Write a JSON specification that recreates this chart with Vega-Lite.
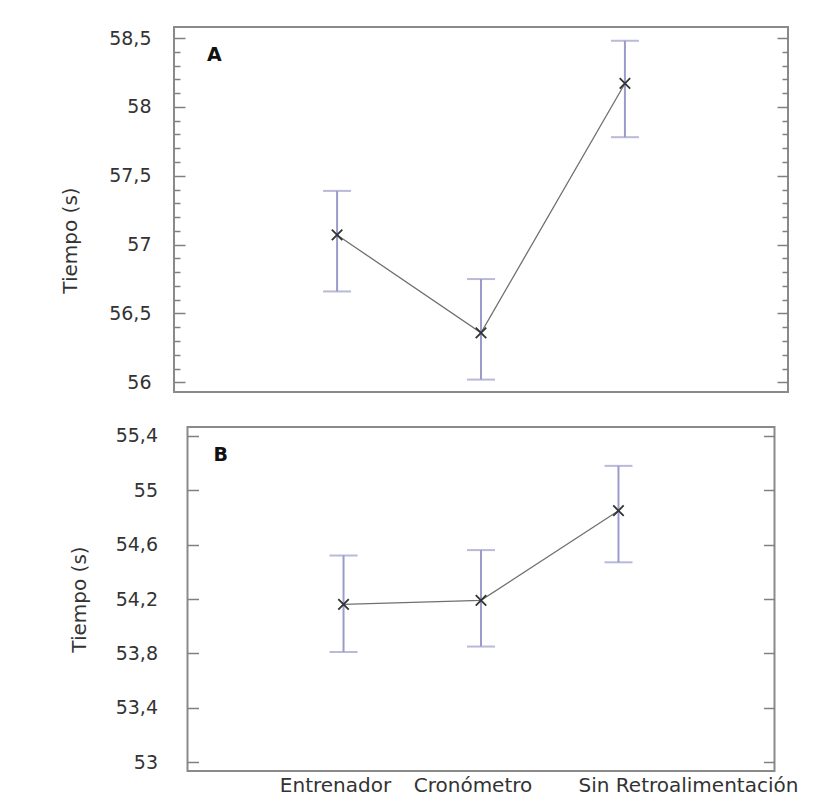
{
  "$schema": "https://vega.github.io/schema/vega-lite/v6.json",
  "background": "white",
  "padding": {"left": 59, "top": 26, "right": 0, "bottom": 0},
  "datasets": {
    "a": [
      {"grupo": "Entrenador", "media": 57.07, "inf": 56.66, "sup": 57.39},
      {"grupo": "Cronómetro", "media": 56.36, "inf": 56.02, "sup": 56.75},
      {"grupo": "Sin Retroalimentación", "media": 58.17, "inf": 57.78, "sup": 58.48}
    ],
    "b": [
      {"grupo": "Entrenador", "media": 54.16, "inf": 53.81, "sup": 54.52},
      {"grupo": "Cronómetro", "media": 54.19, "inf": 53.85, "sup": 54.56},
      {"grupo": "Sin Retroalimentación", "media": 54.85, "inf": 54.47, "sup": 55.18}
    ]
  },
  "spacing": 35,
  "bounds": "flush",
  "center": true,
  "vconcat": [
    {
      "width": 614,
      "height": 365,
      "title": {"text": "A", "anchor": "start", "frame": "group", "font": "DejaVu Sans", "fontSize": 19, "fontWeight": "bold", "color": "#111", "baseline": "alphabetic", "offset": 0, "dx": 33, "dy": 53},
      "data": {"name": "a"},
      "encoding": {
        "x": {"field": "grupo", "type": "nominal", "sort": null, "scale": {"type": "band", "paddingInner": 0, "paddingOuter": 0.633}, "axis": null}
      },
      "layer": [
        {
          "mark": {"type": "rule", "color": "#9b9bcb", "strokeWidth": 2},
          "encoding": {
            "y": {"field": "inf", "type": "quantitative", "scale": {"domain": [55.93, 58.58], "nice": false, "zero": false},
              "axis": {"orient": "left", "title": "Tiempo (s)", "domain": false, "grid": false,
                "values": [56, 56.1, 56.2, 56.3, 56.4, 56.5, 56.6, 56.7, 56.8, 56.9, 57, 57.1, 57.2, 57.3, 57.4, 57.5, 57.6, 57.7, 57.8, 57.9, 58, 58.1, 58.2, 58.3, 58.4, 58.5],
                "labelExpr": "abs(round(datum.value*2)-datum.value*2) < 0.000001 ? replace(toString(datum.value), '.', ',') : ''",
                "tickSize": {"condition": {"test": "abs(round(datum.value*2)-datum.value*2) < 0.000001", "value": -11}, "value": -6},
                "tickColor": "#808080", "tickWidth": 1.5, "labelPadding": 34,
                "labelFont": "DejaVu Sans", "labelFontSize": 19, "labelColor": "#333",
                "titleFont": "DejaVu Sans", "titleFontSize": 20, "titleFontWeight": "normal", "titleColor": "#333", "titlePadding": 28, "titleY": 213}},
            "y2": {"field": "sup"}
          }
        },
        {
          "mark": {"type": "tick", "orient": "horizontal", "color": "#9b9bcb", "size": 28, "thickness": 2},
          "encoding": {
            "y": {"field": "inf", "type": "quantitative", "scale": {"domain": [55.93, 58.58], "nice": false, "zero": false},
              "axis": {"orient": "right", "title": null, "labels": false, "domain": false, "grid": false,
                "values": [56, 56.1, 56.2, 56.3, 56.4, 56.5, 56.6, 56.7, 56.8, 56.9, 57, 57.1, 57.2, 57.3, 57.4, 57.5, 57.6, 57.7, 57.8, 57.9, 58, 58.1, 58.2, 58.3, 58.4, 58.5],
                "tickSize": {"condition": {"test": "abs(round(datum.value*2)-datum.value*2) < 0.000001", "value": -11}, "value": -6},
                "tickColor": "#808080", "tickWidth": 1.5}}
          }
        },
        {
          "mark": {"type": "tick", "orient": "horizontal", "color": "#9b9bcb", "size": 28, "thickness": 2},
          "encoding": {
            "y": {"field": "sup", "type": "quantitative", "scale": {"domain": [55.93, 58.58], "nice": false, "zero": false}, "axis": null}
          }
        },
        {
          "mark": {"type": "line", "color": "#707070", "strokeWidth": 1.3},
          "encoding": {
            "y": {"field": "media", "type": "quantitative", "scale": {"domain": [55.93, 58.58], "nice": false, "zero": false}, "axis": null}
          }
        },
        {
          "mark": {"type": "point", "shape": "M-1,-1L1,1M-1,1L1,-1", "filled": false, "stroke": "#333", "strokeWidth": 1.8, "size": 110, "opacity": 1},
          "encoding": {
            "y": {"field": "media", "type": "quantitative", "scale": {"domain": [55.93, 58.58], "nice": false, "zero": false}, "axis": null}
          }
        }
      ],
      "resolve": {"axis": {"y": "independent"}}
    },
    {
      "width": 587,
      "height": 344,
      "title": {"text": "B", "anchor": "start", "frame": "group", "font": "DejaVu Sans", "fontSize": 19, "fontWeight": "bold", "color": "#111", "baseline": "alphabetic", "offset": 0, "dx": 26, "dy": 53},
      "data": {"name": "b"},
      "encoding": {
        "x": {"field": "grupo", "type": "nominal", "sort": null, "scale": {"type": "band", "paddingInner": 0, "paddingOuter": 0.635},
          "axis": {"title": null, "ticks": false, "domain": false, "grid": false, "labelAngle": 0, "labelPadding": 4, "labelLimit": 400,
            "labelFont": "DejaVu Sans", "labelFontSize": 20, "labelColor": "#333",
            "labelOffset": {"condition": {"test": "datum.value == 'Sin Retroalimentación'", "value": 70}, "value": -8}}}
      },
      "layer": [
        {
          "mark": {"type": "rule", "color": "#9b9bcb", "strokeWidth": 2},
          "encoding": {
            "y": {"field": "inf", "type": "quantitative", "scale": {"domain": [52.934, 55.466], "nice": false, "zero": false},
              "axis": {"orient": "left", "title": "Tiempo (s)", "domain": false, "grid": false,
                "values": [53, 53.4, 53.8, 54.2, 54.6, 55, 55.4],
                "labelExpr": "replace(toString(datum.value), '.', ',')",
                "tickSize": -11, "tickColor": "#808080", "tickWidth": 1.5, "labelPadding": 41,
                "labelFont": "DejaVu Sans", "labelFontSize": 19, "labelColor": "#333",
                "titleFont": "DejaVu Sans", "titleFontSize": 20, "titleFontWeight": "normal", "titleColor": "#333", "titlePadding": 26}},
            "y2": {"field": "sup"}
          }
        },
        {
          "mark": {"type": "tick", "orient": "horizontal", "color": "#9b9bcb", "size": 28, "thickness": 2},
          "encoding": {
            "y": {"field": "inf", "type": "quantitative", "scale": {"domain": [52.934, 55.466], "nice": false, "zero": false},
              "axis": {"orient": "right", "title": null, "labels": false, "domain": false, "grid": false,
                "values": [53, 53.4, 53.8, 54.2, 54.6, 55, 55.4],
                "tickSize": -11, "tickColor": "#808080", "tickWidth": 1.5}}
          }
        },
        {
          "mark": {"type": "tick", "orient": "horizontal", "color": "#9b9bcb", "size": 28, "thickness": 2},
          "encoding": {
            "y": {"field": "sup", "type": "quantitative", "scale": {"domain": [52.934, 55.466], "nice": false, "zero": false}, "axis": null}
          }
        },
        {
          "mark": {"type": "line", "color": "#707070", "strokeWidth": 1.3},
          "encoding": {
            "y": {"field": "media", "type": "quantitative", "scale": {"domain": [52.934, 55.466], "nice": false, "zero": false}, "axis": null}
          }
        },
        {
          "mark": {"type": "point", "shape": "M-1,-1L1,1M-1,1L1,-1", "filled": false, "stroke": "#333", "strokeWidth": 1.8, "size": 110, "opacity": 1},
          "encoding": {
            "y": {"field": "media", "type": "quantitative", "scale": {"domain": [52.934, 55.466], "nice": false, "zero": false}, "axis": null}
          }
        }
      ],
      "resolve": {"axis": {"y": "independent"}}
    }
  ],
  "config": {
    "view": {"stroke": "#8a8a8a", "strokeWidth": 2},
    "axis": {"grid": false}
  }
}
